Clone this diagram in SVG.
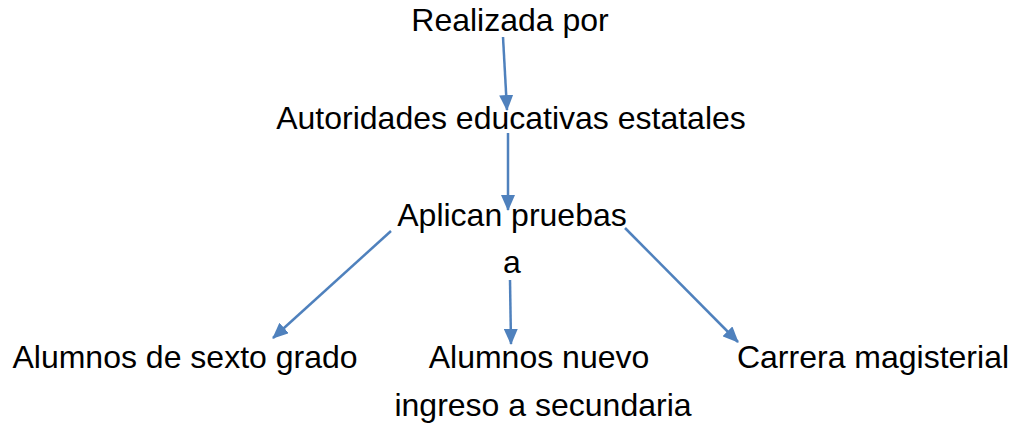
<svg xmlns="http://www.w3.org/2000/svg" width="1013" height="424" viewBox="0 0 1013 424">
<style>
text{font-family:"Liberation Sans",Arial,sans-serif;font-size:32px;fill:#000;text-anchor:middle}
.c{stroke:#4F81BD;stroke-width:2.5;fill:none;marker-end:url(#ah)}
</style>
<defs>
<marker id="ah" markerWidth="16" markerHeight="14" refX="15" refY="7" orient="auto" markerUnits="userSpaceOnUse" viewBox="0 0 16 14">
<path d="M0,0 L16,7 L0,14 z" fill="#4F81BD"/>
</marker>
</defs>
<rect width="1013" height="424" fill="#fff"/>
<g id="connectors">
<line class="c" x1="503" y1="37" x2="507" y2="110"/>
<line class="c" x1="508" y1="133" x2="508" y2="210"/>
<line class="c" x1="391" y1="231" x2="273" y2="338"/>
<line class="c" x1="625" y1="228" x2="738" y2="342"/>
<line class="c" x1="510" y1="280" x2="511" y2="344"/>
</g>
<g id="n1"><text x="510" y="31">Realizada por</text></g>
<g id="n2"><text x="511" y="129">Autoridades educativas estatales</text></g>
<g id="n3"><text x="512" y="226">Aplican pruebas</text><text x="512" y="273">a</text></g>
<g id="n4"><text x="185" y="368">Alumnos de sexto grado</text></g>
<g id="n5"><text x="539" y="368">Alumnos nuevo</text><text x="543" y="416">ingreso a secundaria</text></g>
<g id="n6"><text x="873" y="368">Carrera magisterial</text></g>
</svg>
